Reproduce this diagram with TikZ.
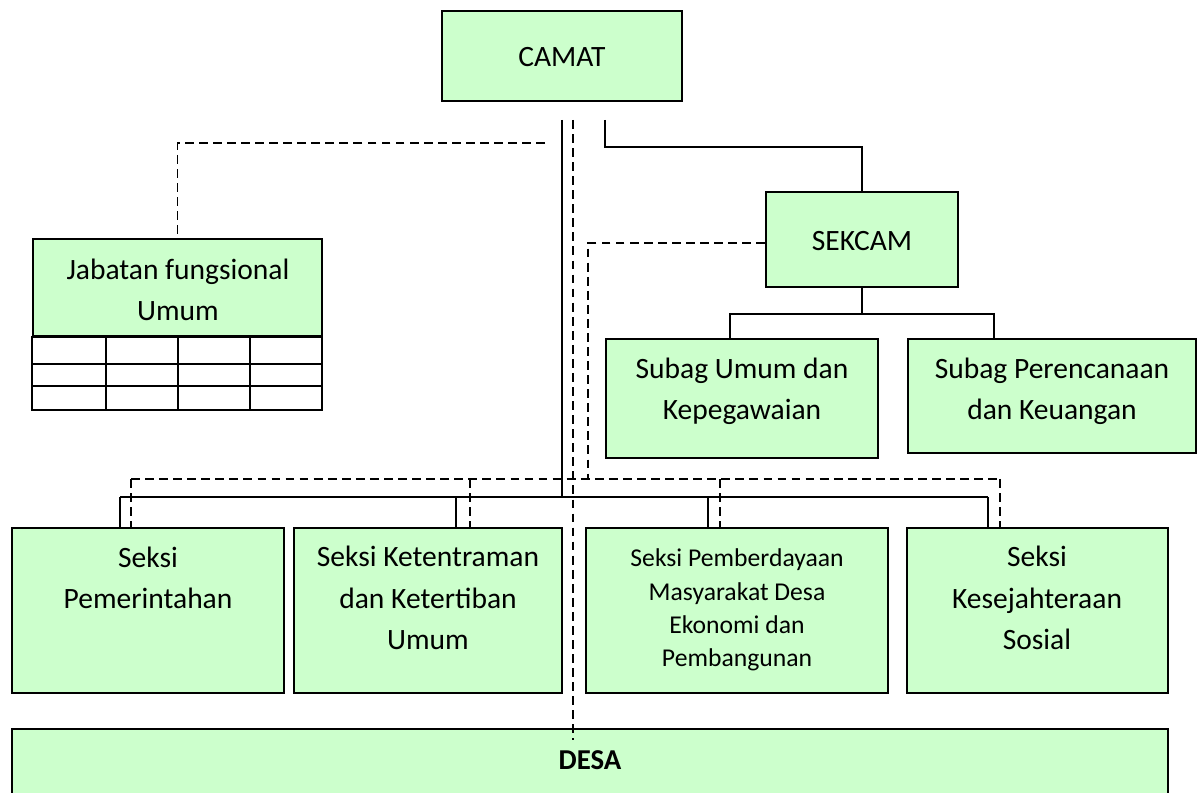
\documentclass[tikz,border=0pt]{standalone}
\usepackage{fontspec}
\setmainfont{Carlito}
\usetikzlibrary{positioning, calc, fit}
\definecolor{boxgreen}{HTML}{CCFFCC}

\begin{document}
\begin{tikzpicture}[
        x=0.02cm, y=-0.02cm,
        %% 1 unit = 1 pixel of the 1200 x 793 page, y runs downwards
        box/.style={rectangle, draw=black, line width=1.1pt, fill=boxgreen, inner sep=0pt},
        cell/.style={draw=black, line width=1.1pt, fill=white},
        line/.style={draw=black, line width=1.1pt},
        dashline/.style={draw=black, line width=1.1pt, dash pattern=on 5pt off 3pt},
        txt/.style={align=center, font=\fontsize{16.8}{23.5}\selectfont, inner sep=0pt},
        smalltxt/.style={txt, font=\fontsize{14.6}{19}\selectfont}
    ]
    \useasboundingbox (0,0) rectangle (1200,793);
    \clip (0,0) rectangle (1200,793);
    \fill[white] (0,0) rectangle (1200,793);

    %% --- Top level ---
    \node[box, fit={(442,11) (682,101)}] (camat) {};
    \node[txt] (camattx) at (562,57) {CAMAT};
    \node[box, fit={(766,192) (958,287)}] (sekcam) {};
    \node[txt] (sekcamtx) at (862,241) {SEKCAM};

    %% --- Jabatan fungsional with its table ---
    \node[box, fit={(33,239) (322,336)}] (jabfung) {};
    \node[txt] (jabfungtx) at (178,290) {Jabatan fungsional\\Umum};
    \draw[cell] (jabfung.south west) rectangle (322,410);
    \foreach \y in {364, 386}
        \draw[line] (33,\y) -- (322,\y);
    \foreach \x in {106, 178, 250}
        \draw[line] (\x,336) -- (\x,410);

    %% --- Subbagian under SEKCAM ---
    \node[box, fit={(606,339) (878,458)}] (subum) {};
    \node[txt] (subumtx) at (742,391) {Subag Umum dan\\Kepegawaian};
    \node[box, fit={(908,339) (1196,453)}] (subren) {};
    \node[txt] (subrentx) at (1052,391) {Subag Perencanaan\\dan Keuangan};

    %% --- Seksi row ---
    \node[box, fit={(12,528) (284,693)}] (pem) {};
    \node[txt] (pemtx) at (148,578) {Seksi\\Pemerintahan};
    \node[box, fit={(294,528) (562,693)}] (ktr) {};
    \node[txt] (ktrtx) at (428,598) {Seksi Ketentraman\\dan Ketertiban\\Umum};
    \node[box, fit={(586,528) (888,693)}] (pmd) {};
    \node[smalltxt] (pmdtx) at (737,610) {Seksi Pemberdayaan\\Masyarakat Desa\\Ekonomi dan\\Pembangunan};
    \node[box, fit={(907,528) (1168,693)}] (ksj) {};
    \node[txt] (ksjtx) at (1037,598) {Seksi\\Kesejahteraan\\Sosial};

    %% --- Desa ---
    \node[box, fit={(12,729) (1168,795)}] (desa) {};
    \node[txt, font=\fontsize{16.4}{23.5}\selectfont\bfseries] (desatx) at (590,760) {DESA};

    %% --- Free ends of the lines below CAMAT ---
    \coordinate (cmdL) at (562,120);
    \coordinate (cmdR) at (605,120);
    \coordinate (korD) at (573,120);
    \coordinate (korJ) at (545,143);
    \coordinate (bus)  at (120,497);
    \coordinate (dbus) at (131,479);

    %% --- Solid command lines ---
    \draw[line] (cmdL) -- (cmdL |- bus);
    \draw[line] (bus) -- (988,497);
    \foreach \x/\n in {120/pem, 456/ktr, 708/pmd, 988/ksj}
        \draw[line] (\x,497) -- (\x,0 |- \n.north);
    \draw[line] (cmdR) -- (605,147) -| (sekcam.north);
    \draw[line] (sekcam.south) -- ++(0,26) coordinate (subbus);
    \draw[line] (subbus -| 730,0) -- (subbus -| 994,0);
    \draw[line] (730,313) -- (730,0 |- subum.north);
    \draw[line] (994,313) -- (994,0 |- subren.north);

    %% --- Dashed coordination lines ---
    \draw[dashline] (korD) -- (573,740);
    \draw[dashline] (korJ) -| (jabfung.north);
    \draw[dashline] (sekcam.west |- 0,243) -| (588,479);
    \draw[dashline] (dbus) -- (1000,479);
    \foreach \x/\n in {131/pem, 470/ktr, 720/pmd, 1000/ksj}
        \draw[dashline] (\x,479) -- (\x,0 |- \n.north);
\end{tikzpicture}
\end{document}
